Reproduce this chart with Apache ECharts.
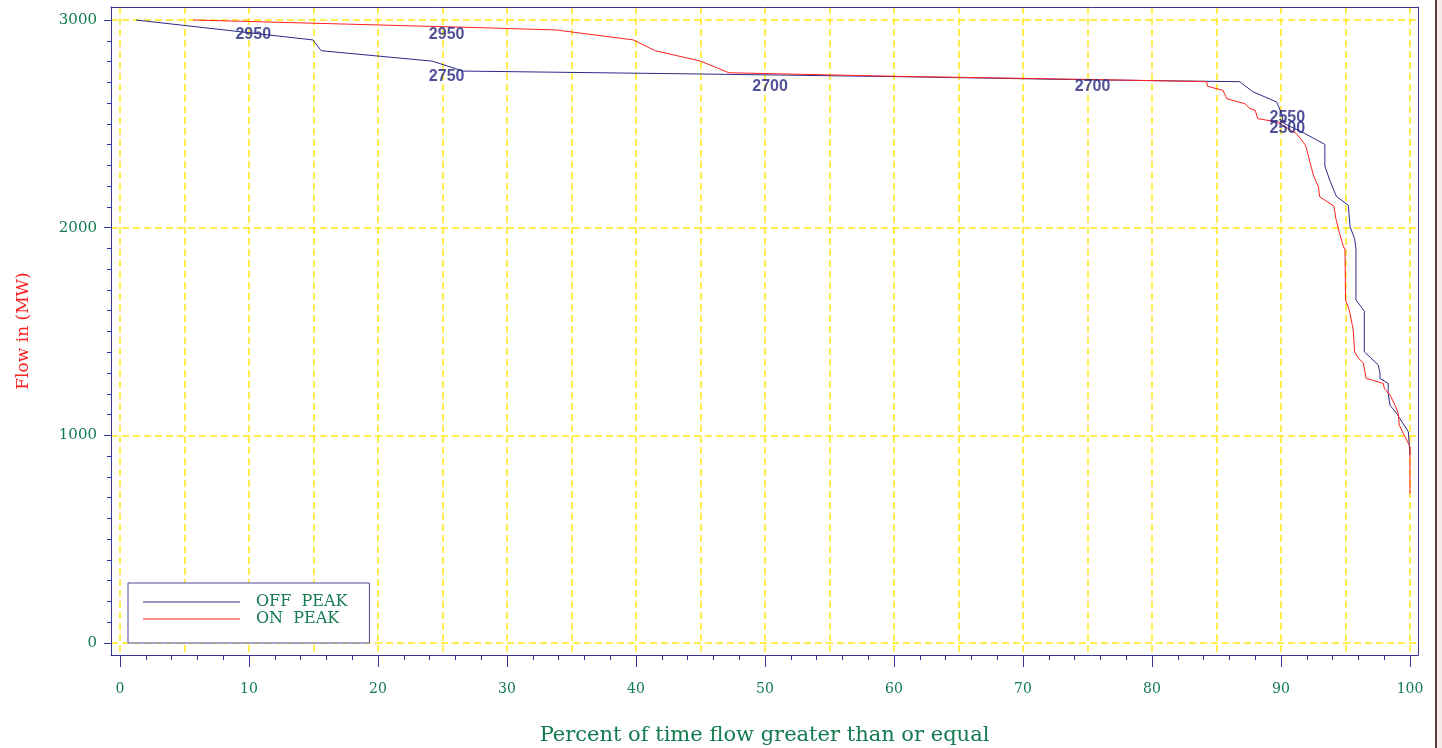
<!DOCTYPE html>
<html>
<head>
<meta charset="utf-8">
<script src="https://cdn.jsdelivr.net/npm/echarts@6/dist/echarts.min.js"></script>
<style>
html,body{margin:0;padding:0;background:#fff;}
#chart{width:1442px;height:748px;}
</style>
</head>
<body>
<div id="chart"></div>
<script>
// ---- data (percent of time, flow MW) ----
const offPeakPct = [1.24, 14.96, 15.6, 24.2, 26.6, 45.0, 60.5, 75.0, 86.8, 87.8, 89.67, 90.05, 90.2, 91.86, 93.4, 93.4, 93.8, 94.3, 95.22, 95.35, 95.7, 95.81, 95.81, 96.46, 96.46, 97.54, 97.67, 97.67, 98.31, 98.31, 98.45, 98.97, 99.87, 100.0];
const offPeakMW  = [3000, 2904, 2852, 2802, 2754, 2740, 2727, 2712, 2703, 2655, 2605, 2549, 2503, 2453, 2401, 2297, 2225, 2150, 2108, 2005, 1948, 1900, 1652, 1598, 1402, 1339, 1300, 1274, 1250, 1202, 1145, 1105, 1017, 905];

const onPeakPct = [5.66, 27.9, 33.8, 39.8, 41.5, 45.0, 47.2, 60.0, 75.0, 84.24, 84.3, 85.5, 85.8, 87.2, 87.6, 88.0, 88.2, 89.7, 91.2, 91.9, 92.2, 92.5, 92.9, 93.0, 94.1, 94.25, 94.5, 94.8, 94.96, 95.0, 95.3, 95.6, 95.7, 96.0, 96.38, 96.59, 97.93, 98.01, 98.45, 98.84, 99.09, 99.17, 99.61, 100.0, 100.0];
const onPeakMW  = [3000, 2963, 2952, 2904, 2852, 2802, 2746, 2729, 2714, 2703, 2681, 2661, 2621, 2597, 2573, 2565, 2525, 2509, 2453, 2397, 2326, 2254, 2197, 2149, 2104, 2045, 1981, 1917, 1892, 1652, 1603, 1507, 1403, 1371, 1349, 1274, 1250, 1226, 1194, 1145, 1105, 1049, 993, 945, 720];

// contour-style value labels along the curves
const labelPct  = [10.33, 25.32, 25.32, 50.39, 75.39, 90.49, 90.49];
const labelMW   = [2928, 2928, 2729, 2679, 2679, 2529, 2475];
const labelText = ['2950', '2950', '2750', '2700', '2700', '2550', '2500'];

// ---- ticks ----
const xMajorTicks = [0, 10, 20, 30, 40, 50, 60, 70, 80, 90, 100];
const xMinorTicks = [0, 2, 4, 6, 8, 10, 12, 14, 16, 18, 20, 22, 24, 26, 28, 30, 32, 34, 36, 38, 40, 42, 44, 46, 48, 50, 52, 54, 56, 58, 60, 62, 64, 66, 68, 70, 72, 74, 76, 78, 80, 82, 84, 86, 88, 90, 92, 94, 96, 98, 100];
const xGridTicks  = [0, 5, 10, 15, 20, 25, 30, 35, 40, 45, 50, 55, 60, 65, 70, 75, 80, 85, 90, 95, 100];
const yMajorTicks = [0, 1000, 2000, 3000];
const yMinorTicks = [0, 100, 200, 300, 400, 500, 600, 700, 800, 900, 1000, 1100, 1200, 1300, 1400, 1500, 1600, 1700, 1800, 1900, 2000, 2100, 2200, 2300, 2400, 2500, 2600, 2700, 2800, 2900, 3000];

const seriesNames = ['OFF PEAK', 'ON PEAK'];
const legendLabels = ['OFF  PEAK', 'ON  PEAK'];

// ---- styling ----
const AXIS = '#33339a';
const GREEN = '#147a50';
const NAVY = '#2a2a8c';
const RED = '#ff2020';
const YELLOW = '#ffe81a';
const X_MIN = -0.6977, X_MAX = 100.62;
const Y_MIN = -57.75, Y_MAX = 3062.6;

const pairs = (xs, ys) => xs.map((x, i) => [x, ys[i]]);
const plain = v => String(Math.round(v));

const chart = echarts.init(document.getElementById('chart'), null, {renderer: 'canvas'});

const option = {
  animation: false,
  backgroundColor: '#ffffff',
  grid: {left: 111, top: 7, right: 24, bottom: 93, containLabel: false, outerBoundsMode: 'none'},
  xAxis: [
    { // main x axis: line, major ticks, labels, name
      type: 'value', min: X_MIN, max: X_MAX, position: 'bottom',
      axisLine: {show: true, onZero: false, lineStyle: {color: AXIS, width: 1}},
      axisTick: {show: true, length: 12, customValues: xMajorTicks, lineStyle: {color: AXIS}},
      axisLabel: {show: true, customValues: xMajorTicks, margin: 27, color: GREEN, formatter: plain,
                  fontFamily: 'DejaVu Serif', fontSize: 14},
      splitLine: {show: false},
      name: 'Percent of time flow greater than or equal',
      nameLocation: 'middle', nameGap: 70,
      nameTextStyle: {color: GREEN, fontFamily: 'DejaVu Serif', fontSize: 21}
    },
    { // minor ticks
      type: 'value', min: X_MIN, max: X_MAX, position: 'bottom',
      axisLine: {show: false, onZero: false},
      axisTick: {show: true, length: 5, customValues: xMinorTicks, lineStyle: {color: AXIS}},
      axisLabel: {show: false}, splitLine: {show: false}
    },
    { // dashed grid lines every 5
      type: 'value', min: X_MIN, max: X_MAX, position: 'bottom',
      axisLine: {show: false, onZero: false},
      axisTick: {show: false, customValues: xGridTicks},
      axisLabel: {show: false, customValues: xGridTicks},
      splitLine: {show: true, lineStyle: {color: YELLOW, type: [7, 4], width: 1.5}}
    },
    { // top frame
      type: 'value', min: X_MIN, max: X_MAX, position: 'top',
      axisLine: {show: true, onZero: false, lineStyle: {color: AXIS, width: 1}},
      axisTick: {show: false}, axisLabel: {show: false}, splitLine: {show: false}
    }
  ],
  yAxis: [
    {
      type: 'value', min: Y_MIN, max: Y_MAX, position: 'left',
      axisLine: {show: true, onZero: false, lineStyle: {color: AXIS, width: 1}},
      axisTick: {show: true, length: 7, customValues: yMajorTicks, lineStyle: {color: AXIS}},
      axisLabel: {show: true, customValues: yMajorTicks, margin: 14, color: GREEN, formatter: plain,
                  fontFamily: 'DejaVu Serif', fontSize: 15},
      splitLine: {show: true, lineStyle: {color: YELLOW, type: [7, 4], width: 1.5}},
      name: 'Flow in (MW)', nameLocation: 'middle', nameGap: 79, nameRotate: 90,
      nameTextStyle: {color: RED, fontFamily: 'DejaVu Serif', fontSize: 17}
    },
    {
      type: 'value', min: Y_MIN, max: Y_MAX, position: 'left',
      axisLine: {show: false, onZero: false},
      axisTick: {show: true, length: 4, customValues: yMinorTicks, lineStyle: {color: AXIS}},
      axisLabel: {show: false}, splitLine: {show: false}
    },
    {
      type: 'value', min: Y_MIN, max: Y_MAX, position: 'right',
      axisLine: {show: true, onZero: false, lineStyle: {color: AXIS, width: 1}},
      axisTick: {show: false}, axisLabel: {show: false}, splitLine: {show: false}
    }
  ],
  legend: {
    left: 128, top: 583, orient: 'vertical',
    data: seriesNames.map(n => ({name: n, icon: 'rect'})),
    formatter: n => legendLabels[seriesNames.indexOf(n)],
    itemWidth: 97, itemHeight: 1, itemGap: 1,
    padding: [11, 22, 16, 15],
    backgroundColor: '#ffffff',
    borderColor: '#4a4aa0', borderWidth: 1, borderRadius: 0,
    textStyle: {fontFamily: 'DejaVu Serif', fontSize: 16, lineHeight: 16, color: GREEN, padding: [0, 0, 0, 11]}
  },
  series: [
    {
      name: seriesNames[0], type: 'line', xAxisIndex: 0, yAxisIndex: 0,
      data: pairs(offPeakPct, offPeakMW), showSymbol: false, symbol: 'none',
      lineStyle: {color: NAVY, width: 1}, itemStyle: {color: NAVY}, z: 3
    },
    {
      name: seriesNames[1], type: 'line', xAxisIndex: 0, yAxisIndex: 0,
      data: pairs(onPeakPct, onPeakMW), showSymbol: false, symbol: 'none',
      lineStyle: {color: RED, width: 1}, itemStyle: {color: RED}, z: 4
    },
    {
      name: 'labels', type: 'scatter', xAxisIndex: 0, yAxisIndex: 0,
      data: labelPct.map((x, i) => [x, labelMW[i], labelText[i]]),
      symbolSize: 1, itemStyle: {color: 'rgba(0,0,0,0)'}, z: 5,
      label: {show: true, position: 'inside', formatter: p => p.value[2],
              color: '#262680', fontFamily: 'Liberation Sans', fontWeight: 'bold', fontSize: 16}
    }
  ],
  graphic: [
    {type: 'rect', left: 1435, top: 0, shape: {width: 2, height: 748}, style: {fill: '#5a3c3c'}, z: 100},
    {type: 'rect', left: 1437, top: 0, shape: {width: 5, height: 748}, style: {fill: '#f6e9e9'}, z: 100}
  ]
};
chart.setOption(option);
</script>
</body>
</html>
